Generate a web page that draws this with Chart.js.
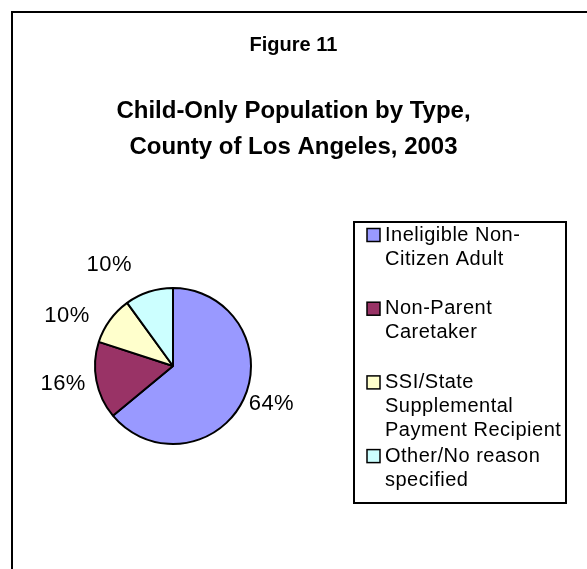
<!DOCTYPE html>
<html>
<head>
<meta charset="utf-8">
<title>Figure 11</title>
<script src="https://cdn.jsdelivr.net/npm/chart.js@4.4.1/dist/chart.umd.min.js"></script>
<style>
  html, body { margin: 0; padding: 0; background: #fff; }
  canvas { display: block; }
</style>
</head>
<body>
<canvas id="myChart" width="587" height="569"></canvas>
<script>
const categories = [
  ['Ineligible Non-', 'Citizen Adult'],
  ['Non-Parent', 'Caretaker'],
  ['SSI/State', 'Supplemental', 'Payment Recipient'],
  ['Other/No reason', 'specified']
]
const shares = [64, 16, 10, 10]
const sliceColors = ['#9999ff', '#993366', '#ffffcc', '#ccffff']

const FONT = "'Liberation Sans', Arial, sans-serif"

// white page + the frame (top and left edges only, rest is cut off)
const framePlugin = {
  id: 'frame',
  beforeDraw(chart) {
    const c = chart.ctx
    c.save()
    c.fillStyle = '#fff'
    c.fillRect(0, 0, chart.width, chart.height)
    c.strokeStyle = '#000'
    c.lineWidth = 2
    c.beginPath()
    c.moveTo(12, chart.height)
    c.lineTo(12, 12)
    c.lineTo(chart.width, 12)
    c.stroke()
    c.restore()
  }
}

// pie sits on the left, the legend box takes the right side
const pieRoom = { left: 14, right: 332 }
const shiftPlugin = {
  id: 'shift',
  afterLayout(chart) {
    const a = chart.chartArea
    a.left = pieRoom.left
    a.right = pieRoom.right
    a.width = a.right - a.left
  }
}

// percent labels outside the slices
const pctPlugin = {
  id: 'pct',
  afterDatasetsDraw(chart) {
    const c = chart.ctx
    const nudge = [[0, -2], [-3, 0], [-18, 5], [-30, -12]]
    c.save()
    c.font = '22px ' + FONT
    c.letterSpacing = '0.5px'
    c.fillStyle = '#000'
    c.textAlign = 'center'
    c.textBaseline = 'middle'
    chart.getDatasetMeta(0).data.forEach((arc, i) => {
      const p = arc.getProps(['x', 'y', 'startAngle', 'endAngle', 'outerRadius'])
      const mid = (p.startAngle + p.endAngle) / 2
      const txt = shares[i] + '%'
      const w = c.measureText(txt).width
      const cos = Math.cos(mid)
      const sin = Math.sin(mid)
      const r = p.outerRadius + 8
      c.fillText(txt,
        p.x + r * cos + (w / 2) * cos + nudge[i][0],
        p.y + r * sin + 8 * sin + nudge[i][1])
    })
    c.restore()
  }
}

// boxed legend like the original
const legendBox = { left: 354, top: 222, right: 566, bottom: 503 }
const legendPlugin = {
  id: 'boxLegend',
  afterDraw(chart) {
    const c = chart.ctx
    const colors = chart.data.datasets[0].backgroundColor
    c.save()
    c.strokeStyle = '#000'
    c.lineWidth = 2
    c.strokeRect(legendBox.left, legendBox.top,
      legendBox.right - legendBox.left, legendBox.bottom - legendBox.top)

    c.font = '20px ' + FONT
    c.letterSpacing = '0.5px'
    c.textAlign = 'left'
    c.textBaseline = 'middle'
    chart.data.labels.forEach((lines, i) => {
      const y = legendBox.top + 13 + i * 73.7
      c.fillStyle = colors[i]
      c.fillRect(367, y - 6.5, 13, 13)
      c.lineWidth = 1.5
      c.strokeRect(367, y - 6.5, 13, 13)
      c.fillStyle = '#000'
      lines.forEach((t, j) => c.fillText(t, 385, y + j * 24))
    })
    c.restore()
  }
}

new Chart(document.getElementById('myChart'), {
  type: 'pie',
  data: {
    labels: categories,
    datasets: [{
      data: shares,
      backgroundColor: sliceColors,
      borderColor: '#000',
      borderWidth: 2
    }]
  },
  options: {
    responsive: false,
    animation: false,
    events: [],
    radius: 78,
    layout: { padding: { top: 0, left: 0, right: 0, bottom: 2 } },
    plugins: {
      legend: { display: false },
      tooltip: { enabled: false },
      title: {
        display: true,
        text: 'Figure 11',
        color: '#000',
        font: { family: FONT, size: 20, weight: 'bold', lineHeight: 1.2 },
        padding: { top: 33, bottom: 0 }
      },
      subtitle: {
        display: true,
        text: ['Child-Only Population by Type,', 'County of Los Angeles, 2003'],
        color: '#000',
        font: { family: FONT, size: 24, weight: 'bold', lineHeight: 1.5 },
        padding: { top: 36, bottom: 0 }
      }
    }
  },
  plugins: [framePlugin, shiftPlugin, pctPlugin, legendPlugin]
})
</script>
</body>
</html>
